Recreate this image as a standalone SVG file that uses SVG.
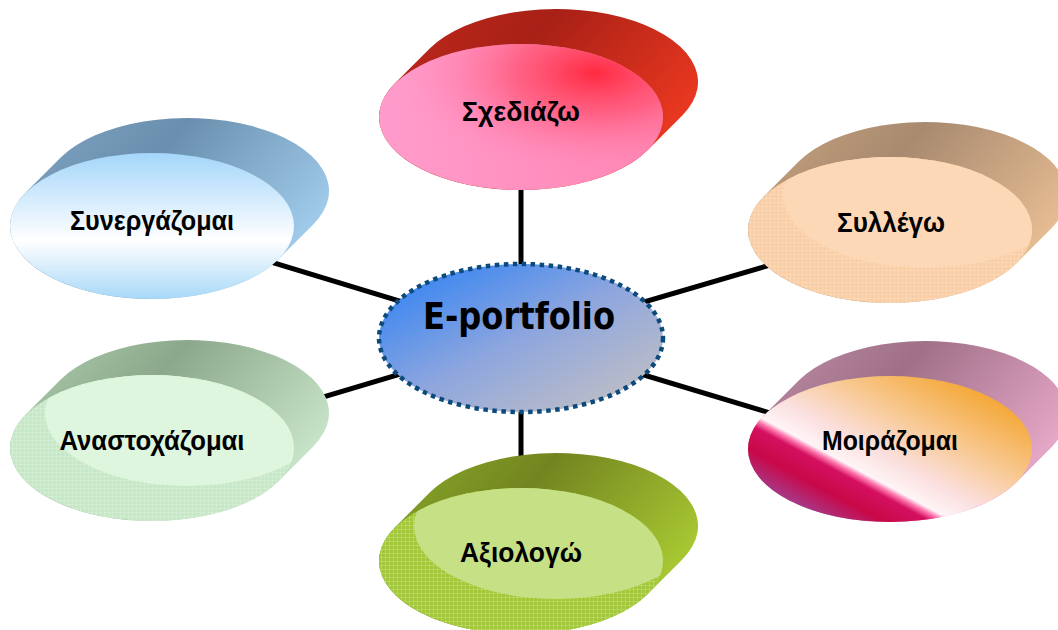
<svg xmlns="http://www.w3.org/2000/svg" xmlns:xlink="http://www.w3.org/1999/xlink" width="1058" height="630" viewBox="0 0 1058 630">
<style>
.lbl{font-family:"Liberation Sans",Arial,"DejaVu Sans",sans-serif;font-weight:bold;font-size:27px;fill:#000;text-anchor:middle}
.conn{stroke:#000;stroke-width:5;fill:none}
</style>
<defs>
<path id="hull" d="M-126.3,-33.4 L-91.3,-68.4 A142,73 0 0 1 161.3,-1.6 L126.3,33.4 A142,73 0 0 1 -126.3,-33.4 Z"/>
<clipPath id="frontClip"><ellipse cx="0" cy="0" rx="142" ry="73"/></clipPath>
<pattern id="grid" width="4" height="4" patternUnits="userSpaceOnUse">
<rect x="0" y="0" width="4" height="1" fill="#fff" opacity="0.18"/>
<rect x="0" y="0" width="1" height="4" fill="#fff" opacity="0.18"/>
</pattern>
<linearGradient id="bRed" x1="0" y1="0" x2="1" y2="0.5"><stop offset="0" stop-color="#c22a1c"/><stop offset="0.45" stop-color="#a82016"/><stop offset="1" stop-color="#ea3820"/></linearGradient>
<linearGradient id="bBlue" x1="0" y1="0" x2="1" y2="0.5"><stop offset="0" stop-color="#82a6c4"/><stop offset="0.45" stop-color="#6a8fae"/><stop offset="1" stop-color="#a0cbea"/></linearGradient>
<linearGradient id="bTan" x1="0" y1="0" x2="1" y2="0.5"><stop offset="0" stop-color="#caa47e"/><stop offset="0.45" stop-color="#a88a70"/><stop offset="1" stop-color="#e6bc92"/></linearGradient>
<linearGradient id="bMauve" x1="0" y1="0" x2="1" y2="0.5"><stop offset="0" stop-color="#c090a8"/><stop offset="0.45" stop-color="#a07088"/><stop offset="1" stop-color="#e6a8c8"/></linearGradient>
<linearGradient id="bGreen" x1="0" y1="0" x2="1" y2="0.5"><stop offset="0" stop-color="#b0d0b0"/><stop offset="0.45" stop-color="#8ca88c"/><stop offset="1" stop-color="#c8e4c8"/></linearGradient>
<linearGradient id="bOlive" x1="0" y1="0" x2="1" y2="0.5"><stop offset="0" stop-color="#8cae2a"/><stop offset="0.45" stop-color="#728420"/><stop offset="1" stop-color="#a8c832"/></linearGradient>
<linearGradient id="fPink" x1="0" y1="0" x2="1" y2="0"><stop offset="0" stop-color="#ff9ccc"/><stop offset="1" stop-color="#ff86b4"/></linearGradient>
<radialGradient id="fPinkSpot" cx="0.76" cy="0.2" r="0.7"><stop offset="0" stop-color="#ff2a40" stop-opacity="1"/><stop offset="0.4" stop-color="#ff4a68" stop-opacity="0.65"/><stop offset="1" stop-color="#ff90c0" stop-opacity="0"/></radialGradient>
<linearGradient id="fSky" x1="0" y1="0" x2="0" y2="1"><stop offset="0" stop-color="#a4d6fa"/><stop offset="0.6" stop-color="#ffffff"/><stop offset="1" stop-color="#a8d8f8"/></linearGradient>
<linearGradient id="fShare" gradientUnits="userSpaceOnUse" x1="-44" y1="82" x2="44" y2="-82"><stop offset="0" stop-color="#a83888"/><stop offset="0.14" stop-color="#c80848"/><stop offset="0.26" stop-color="#d41060"/><stop offset="0.295" stop-color="#ff7ab0"/><stop offset="0.32" stop-color="#fff4f6"/><stop offset="0.45" stop-color="#fbe0e0"/><stop offset="0.7" stop-color="#f8c890"/><stop offset="1" stop-color="#f4a838"/></linearGradient>
<linearGradient id="eGrad" x1="0.1" y1="0.1" x2="0.9" y2="0.9"><stop offset="0" stop-color="#3a86f2"/><stop offset="0.5" stop-color="#8ea6de"/><stop offset="1" stop-color="#bebec6"/></linearGradient>
</defs>

<g id="connectors">
<line class="conn" x1="521" y1="338" x2="521" y2="117"/>
<line class="conn" x1="521" y1="338" x2="521" y2="561"/>
<line class="conn" x1="521" y1="338" x2="152" y2="226"/>
<line class="conn" x1="521" y1="338" x2="890" y2="230"/>
<line class="conn" x1="521" y1="338" x2="152" y2="448"/>
<line class="conn" x1="521" y1="338" x2="890" y2="449"/>
</g>

<g id="node-sxediazo" transform="translate(521,117)">
<use xlink:href="#hull" fill="url(#bRed)"/>
<ellipse rx="142" ry="73" fill="url(#fPink)"/>
<ellipse rx="142" ry="73" fill="url(#fPinkSpot)"/>
<text class="lbl" x="0" y="4" textLength="118" lengthAdjust="spacingAndGlyphs">Σχεδιάζω</text>
</g>

<g id="node-synergazomai" transform="translate(152,226)">
<use xlink:href="#hull" fill="url(#bBlue)"/>
<ellipse rx="142" ry="73" fill="url(#fSky)"/>
<text class="lbl" x="0" y="4" textLength="164" lengthAdjust="spacingAndGlyphs">Συνεργάζομαι</text>
</g>

<g id="node-syllego" transform="translate(890,230)">
<use xlink:href="#hull" fill="url(#bTan)"/>
<ellipse rx="142" ry="73" fill="#fbcda2"/>
<ellipse rx="142" ry="73" fill="url(#grid)"/>
<ellipse cx="35" cy="-35" rx="142" ry="73" fill="#fdd8b6" clip-path="url(#frontClip)"/>
<text class="lbl" x="1" y="2" textLength="108" lengthAdjust="spacingAndGlyphs">Συλλέγω</text>
</g>

<g id="node-moirazomai" transform="translate(890,449)">
<use xlink:href="#hull" fill="url(#bMauve)"/>
<ellipse rx="142" ry="73" fill="url(#fShare)"/>
<text class="lbl" x="0" y="1" textLength="136" lengthAdjust="spacingAndGlyphs">Μοιράζομαι</text>
</g>

<g id="node-anastoxazomai" transform="translate(152,448)">
<use xlink:href="#hull" fill="url(#bGreen)"/>
<ellipse rx="142" ry="73" fill="#c6e8c6"/>
<ellipse rx="142" ry="73" fill="url(#grid)"/>
<ellipse cx="35" cy="-35" rx="142" ry="73" fill="#def6de" clip-path="url(#frontClip)"/>
<text class="lbl" x="0" y="2" textLength="185" lengthAdjust="spacingAndGlyphs">Αναστοχάζομαι</text>
</g>

<g id="node-axiologo" transform="translate(521,561)">
<use xlink:href="#hull" fill="url(#bOlive)"/>
<ellipse rx="142" ry="73" fill="#a2c83a"/>
<ellipse rx="142" ry="73" fill="url(#grid)"/>
<ellipse cx="35" cy="-35" rx="142" ry="73" fill="#c6e086" clip-path="url(#frontClip)"/>
<text class="lbl" x="0" y="1" textLength="122" lengthAdjust="spacingAndGlyphs">Αξιολογώ</text>
</g>

<g id="node-eportfolio">
<ellipse cx="521" cy="338" rx="142" ry="74" fill="url(#eGrad)" stroke="#0d4a7c" stroke-width="4.5" stroke-dasharray="4.5 4.5"/>
<text x="519" y="329" text-anchor="middle" font-family="'DejaVu Sans',sans-serif" font-weight="bold" font-size="38" textLength="192" lengthAdjust="spacingAndGlyphs" fill="#000">E-portfolio</text>
</g>
</svg>
